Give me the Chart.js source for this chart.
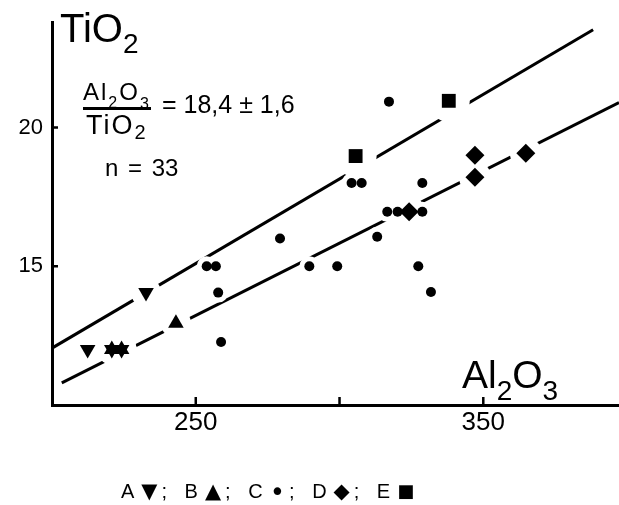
<!DOCTYPE html>
<html>
<head>
<meta charset="utf-8">
<script src="https://cdn.jsdelivr.net/npm/chart.js@4.4.0/dist/chart.umd.min.js"></script>
<style>
  html, body { margin: 0; padding: 0; background: #fff; }
  #wrap { position: relative; width: 619px; height: 505px; font-family: "Liberation Sans", Arial, sans-serif; color: #000; }
  #wrap canvas { position: absolute; left: 0; top: 0; }
  .lbl { position: absolute; white-space: nowrap; line-height: 1; }
  .sub { position: relative; }
  .sym { font-family: "DejaVu Sans", sans-serif; font-size: 21px; margin-left: 3px; position: relative; }
</style>
</head>
<body>
<div id="wrap">
  <canvas id="chart" width="619" height="505"></canvas>

  <div class="lbl" style="left:60px; top:8px; font-size:40px">TiO<span class="sub" style="font-size:28px; top:11px">2</span></div>

  <div class="lbl" style="left:83px; top:80px; font-size:24px; letter-spacing:2px">Al<span class="sub" style="font-size:16px; top:8px">2</span>O<span class="sub" style="font-size:16px; top:9px">3</span></div>
  <div style="position:absolute; left:83px; top:107px; width:68px; height:2.5px; background:#000"></div>
  <div class="lbl" style="left:86px; top:112px; font-size:27px; letter-spacing:2px">TiO<span class="sub" style="font-size:20px; top:5px">2</span></div>
  <div class="lbl" style="left:162px; top:92px; font-size:25px">= 18,4 ± 1,6</div>
  <div class="lbl" style="left:105px; top:156px; font-size:24px; word-spacing:3px">n = 33</div>

  <div class="lbl" style="left:462px; top:355px; font-size:39px">Al<span class="sub" style="font-size:28px; top:12px">2</span>O<span class="sub" style="font-size:28px; top:12px">3</span></div>

  <div class="lbl" style="left:121px; top:476px; font-size:20px; letter-spacing:4px; word-spacing:4px">A<span class="sym">▼</span>; B<span class="sym">▲</span>; C<span class="sym" style="font-size:26px; top:3px">•</span>; D<span class="sym">◆</span>; E<span class="sym" style="font-size:18px; top:-1px">■</span></div>
</div>

<script>
// Al2O3 (x) and TiO2 (y) per group
const aAl = [212.4, 232.7, 220.8, 224.2];
const aTi = [12.0, 14.05, 12.0, 12.0];
const bAl = [243.1, 220.8, 224.2];
const bTi = [12.95, 12.0, 12.0];
const cAl = [253.8, 257.0, 257.8, 258.8, 279.3, 289.5, 299.2, 327.4, 317.2,
             304.2, 307.7, 328.8, 316.6, 320.2, 328.8, 313.1, 331.8];
const cTi = [15.0, 15.0, 14.05, 12.27, 16.0, 15.0, 15.0, 15.0, 20.93,
             18.0, 18.0, 18.0, 16.96, 16.96, 16.96, 16.06, 14.07];
const dAl = [324.2, 347.1, 347.1, 364.8];
const dTi = [16.96, 19.0, 18.21, 19.07];
const eAl = [305.6, 338.0];
const eTi = [18.97, 20.96];

// the two ratio lines
const upperAl = [200, 388.2];
const upperTi = [12.05, 23.52];
const lowerAl = [203.4, 397.2];
const lowerTi = [10.8, 20.9];

const xTicks = [250, 300, 350];
const xTickLabels = ['250', '', '350'];
const yTicks = [15, 20];
const yTickLabels = ['15', '20'];

function pts(xs, ys) {
  return xs.map((x, i) => ({x: x, y: ys[i]}));
}

const groups = [
  {xs: aAl, ys: aTi, style: 'triangle', rot: 180, r: 9, halo: 15},
  {xs: bAl, ys: bTi, style: 'triangle', rot: 0, r: 9, halo: 15},
  {xs: cAl, ys: cTi, style: 'circle', rot: 0, r: 5, halo: 10},
  {xs: dAl, ys: dTi, style: 'rectRot', rot: 0, r: 9.5, halo: 16},
  {xs: eAl, ys: eTi, style: 'rect', rot: 0, r: 9.8, halo: 21}
];

const datasets = [];
// lines drawn first
[[upperAl, upperTi], [lowerAl, lowerTi]].forEach(l => {
  datasets.push({
    data: pts(l[0], l[1]),
    showLine: true,
    borderColor: '#000',
    borderWidth: 3,
    pointRadius: 0,
    order: 3
  });
});
// white halos break the lines around the markers
groups.forEach(g => {
  datasets.push({
    data: pts(g.xs, g.ys),
    pointStyle: 'circle',
    pointRadius: g.halo,
    backgroundColor: '#fff',
    borderWidth: 0,
    order: 2
  });
});
groups.forEach(g => {
  datasets.push({
    data: pts(g.xs, g.ys),
    pointStyle: g.style,
    rotation: g.rot,
    pointRadius: g.r,
    backgroundColor: '#000',
    borderColor: '#000',
    borderWidth: 0,
    order: 1
  });
});

const inwardTicks = {
  id: 'inwardTicks',
  afterDatasetsDraw(chart) {
    const {ctx, scales: {x, y}} = chart;
    ctx.save();
    ctx.strokeStyle = '#000';
    ctx.lineWidth = 2.5;
    ctx.beginPath();
    xTicks.forEach(v => {
      const px = x.getPixelForValue(v);
      ctx.moveTo(px, x.top);
      ctx.lineTo(px, x.top - 8);
    });
    yTicks.forEach(v => {
      const py = y.getPixelForValue(v);
      ctx.moveTo(y.right, py);
      ctx.lineTo(y.right + 6, py);
    });
    ctx.stroke();
    ctx.restore();
  }
};

new Chart(document.getElementById('chart'), {
  type: 'scatter',
  data: {datasets: datasets},
  options: {
    responsive: false,
    animation: false,
    layout: {autoPadding: false, padding: {top: 22, right: 0, left: 0, bottom: 0}},
    plugins: {legend: {display: false}, tooltip: {enabled: false}},
    scales: {
      x: {
        type: 'linear',
        min: 200,
        max: 397.2,
        grid: {display: false, drawTicks: false},
        border: {display: true, width: 3, color: '#000'},
        afterBuildTicks: s => { s.ticks = xTicks.map(v => ({value: v})); },
        afterFit: s => { s.height = 100; s.paddingLeft = 0; s.paddingRight = 0; },
        ticks: {
          padding: 2,
          color: '#000',
          font: {family: 'Liberation Sans', size: 26},
          maxRotation: 0,
          callback: (v, i) => xTickLabels[i]
        }
      },
      y: {
        type: 'linear',
        min: 10,
        max: 23.8,
        grid: {display: false, drawTicks: false},
        border: {display: true, width: 3, color: '#000'},
        afterBuildTicks: s => { s.ticks = yTicks.map(v => ({value: v})); },
        afterFit: s => { s.width = 52; s.paddingTop = 0; s.paddingBottom = 0; },
        ticks: {
          padding: 9,
          color: '#000',
          font: {family: 'Liberation Sans', size: 22},
          callback: (v, i) => yTickLabels[i]
        }
      }
    }
  },
  plugins: [inwardTicks]
});
</script>
</body>
</html>
